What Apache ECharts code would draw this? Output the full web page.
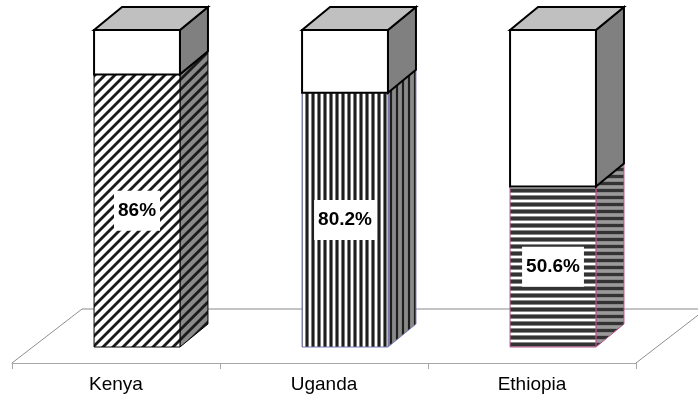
<!DOCTYPE html>
<html>
<head>
<meta charset="utf-8">
<script src="https://cdn.jsdelivr.net/npm/echarts@6/dist/echarts.min.js"></script>
<style>
  html, body { margin: 0; padding: 0; background: #fff; }
  #main { width: 698px; height: 398px; }
</style>
</head>
<body>
<div id="main"></div>
<script>
const categories = ['Kenya', 'Uganda', 'Ethiopia'];
const shareValues = [86, 80.2, 50.6];
const restValues = [14, 19.8, 49.4];
const edgeColors = ['#000000', '#7878b8', '#b8508a'];

// stripe tiles
function tile(w, h, draw) {
  const c = document.createElement('canvas');
  c.width = w; c.height = h;
  draw(c.getContext('2d'), w, h);
  return { image: c, repeat: 'repeat' };
}
function diag(bg) {
  return tile(10, 10, function (ctx, w, h) {
    ctx.fillStyle = bg; ctx.fillRect(0, 0, w, h);
    ctx.strokeStyle = '#1a1a1a'; ctx.lineWidth = 2.8;
    [[-5, 5, 5, -5], [0, 10, 10, 0], [5, 15, 15, 5]].forEach(function (l) {
      ctx.beginPath(); ctx.moveTo(l[0], l[1]); ctx.lineTo(l[2], l[3]); ctx.stroke();
    });
  });
}
function vert(bg) {
  return tile(6, 4, function (ctx, w, h) {
    ctx.fillStyle = bg; ctx.fillRect(0, 0, w, h);
    ctx.fillStyle = '#1e1e1e'; ctx.fillRect(0, 0, 2, h);
    ctx.fillStyle = '#808080'; ctx.fillRect(2, 0, 1, h); ctx.fillRect(5, 0, 1, h);
  });
}
function horiz(bg) {
  return tile(4, 7, function (ctx, w, h) {
    ctx.fillStyle = bg; ctx.fillRect(0, 0, w, h);
    ctx.fillStyle = '#333'; ctx.fillRect(0, 0, w, 3);
    ctx.fillStyle = '#888'; ctx.fillRect(0, 3, w, 1); ctx.fillRect(0, 6, w, 1);
  });
}
const frontFills = [diag('#ffffff'), vert('#ffffff'), horiz('#ffffff')];
const sideFills = [diag('#8a8a8a'), vert('#8a8a8a'), horiz('#9a9a9a')];

const DX = 28, DY = -23;

function boxShape(params, api, upper) {
  const i = api.value(0);
  const p0 = api.coord([i, api.value(1)]);
  const p1 = api.coord([i, api.value(2)]);
  const band = api.size([1, 0])[0];
  const w = band * 0.413;
  const xl = p0[0] + band * 0.101 - w / 2, xr = xl + w;
  const yb = p0[1], yt = p1[1];
  const edge = upper ? '#000' : edgeColors[i];
  const lw = upper ? 2 : 1;
  const children = [
    { type: 'polygon', shape: { points: [[xr, yb], [xr + DX, yb + DY], [xr + DX, yt + DY], [xr, yt]] },
      style: { fill: upper ? '#808080' : sideFills[i], stroke: edge, lineWidth: lw } },
    { type: 'rect', shape: { x: xl, y: yt, width: w, height: yb - yt },
      style: { fill: upper ? '#ffffff' : frontFills[i], stroke: edge, lineWidth: lw } }
  ];
  if (upper) {
    children.push({ type: 'polygon', shape: { points: [[xl, yt], [xr, yt], [xr + DX, yt + DY], [xl + DX, yt + DY]] },
      style: { fill: '#c0c0c0', stroke: '#000', lineWidth: 2 } });
  } else {
    children.push({ type: 'text', z2: 10, x: (xl + xr) / 2, y: (yb + yt) / 2,
      style: { text: shareValues[i] + '%', fill: '#000', fontSize: 19, fontWeight: 'bold',
        fontFamily: '"Liberation Sans", Arial', align: 'center', verticalAlign: 'middle',
        backgroundColor: '#fff', padding: [11, 4, 10, 4] } });
  }
  return { type: 'group', children: children };
}

const chart = echarts.init(document.getElementById('main'));
chart.setOption({
  backgroundColor: '#fff',
  animation: false,
  grid: { left: 12, right: 62, top: 30, bottom: 51 },
  xAxis: {
    type: 'category',
    data: categories,
    offset: 16,
    axisLine: { onZero: false, lineStyle: { color: '#a8a8a8', width: 1 } },
    axisTick: { show: true, length: 6, lineStyle: { color: '#a8a8a8' } },
    axisLabel: { color: '#000', fontSize: 19, fontFamily: '"Liberation Sans", Arial', margin: 12 },
    splitLine: { show: false }
  },
  yAxis: { type: 'value', min: 0, max: 100, show: false },
  graphic: [
    { type: 'polyline', z: 0, shape: { points: [[82, 309], [706, 309]] }, style: { stroke: '#c4c4c4', lineWidth: 2 } },
    { type: 'polyline', z: 0, shape: { points: [[12, 363], [82, 309]] }, style: { stroke: '#909090', lineWidth: 1 } },
    { type: 'polyline', z: 0, shape: { points: [[636, 363], [706, 309]] }, style: { stroke: '#909090', lineWidth: 1 } }
  ],
  series: [
    {
      type: 'custom',
      name: 'share',
      data: categories.map(function (c, i) { return [i, 0, shareValues[i]]; }),
      renderItem: function (params, api) { return boxShape(params, api, false); }
    },
    {
      type: 'custom',
      name: 'rest',
      data: categories.map(function (c, i) { return [i, shareValues[i], shareValues[i] + restValues[i]]; }),
      renderItem: function (params, api) { return boxShape(params, api, true); }
    }
  ]
});
</script>
</body>
</html>
